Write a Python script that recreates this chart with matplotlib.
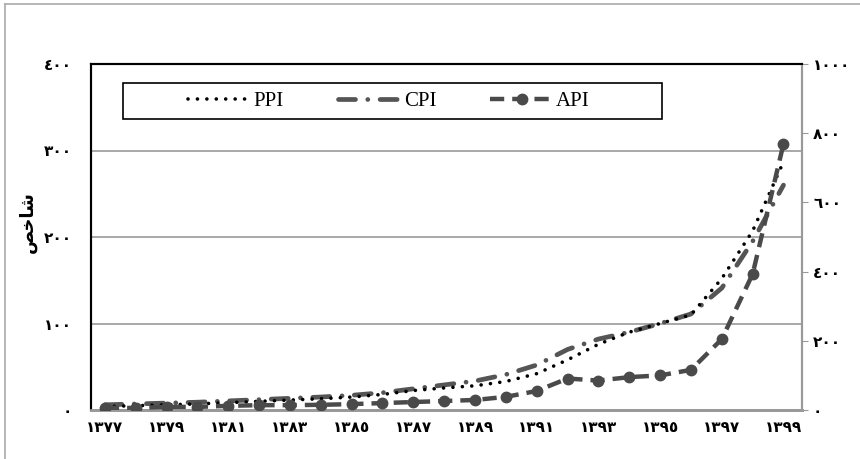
import matplotlib
matplotlib.use('Agg')
import matplotlib.pyplot as plt
from matplotlib.lines import Line2D
from matplotlib.patches import Rectangle

# years 1377..1399 (solar hijri)
years = list(range(1377, 1400))

ppi = [4, 5, 6, 7, 8.5, 10, 11.5, 13, 15, 18, 22.5, 25.5, 28, 33, 42,
       58, 76, 90, 100, 110, 152, 207, 287]
cpi = [6, 7, 8, 9, 10.5, 12, 13.5, 15, 17, 20, 24.5, 29, 33.5, 41, 52,
       70, 82, 90, 100, 111, 141, 195, 260]
api = [6, 6, 9, 9, 12, 14, 14, 15, 17, 20, 23, 26, 29, 38, 55,
       91, 85, 95, 100, 116, 205, 393, 769]

left_ticks = [0, 100, 200, 300, 400]
right_ticks = [0, 200, 400, 600, 800, 1000]

FA = str.maketrans('0123456789', '٠١٢٣٤٥٦٧٨٩')


def to_fa(n):
    return str(n).translate(FA)


# "شاخص" written with presentation forms, visual (left-to-right) order
ylabel_text = '\uFEBA\uFEA7\uFE8E\uFEB7'

ppi_style = dict(color='black', lw=2.6, linestyle=(0, (0.01, 2.6)),
                 dash_capstyle='round')
cpi_style = dict(color='#555555', lw=3.4, linestyle=(0, (3.6, 2.6, 0.01, 2.6)),
                 dash_capstyle='round')
api_style = dict(color='#4a4a4a', lw=3.2, linestyle=(0, (3.2, 1.8)),
                 marker='o', ms=7.5)

fig = plt.figure(figsize=(8.6, 4.59), dpi=100)
ax = fig.add_axes([91 / 860, 49 / 459, 711 / 860, 346 / 459])
ax2 = ax.twinx()

x = list(range(len(years)))

ax.plot(x, ppi, zorder=3, **ppi_style)
ax.plot(x, cpi, zorder=2, **cpi_style)
ax2.plot(x, api, zorder=4, **api_style)

ax.set_xlim(-0.45, 22.6)
ax.set_ylim(0, 400)
ax2.set_ylim(0, 1000)

ax.set_yticks(left_ticks)
ax.set_yticklabels([to_fa(v) for v in left_ticks])
ax2.set_yticks(right_ticks)
ax2.set_yticklabels([to_fa(v) for v in right_ticks])
ax.set_xticks(x[::2])
ax.set_xticklabels([to_fa(y) for y in years[::2]])

for lbl in ax.get_xticklabels() + ax.get_yticklabels() + ax2.get_yticklabels():
    lbl.set_fontweight('bold')
    lbl.set_fontsize(11)
    lbl.set_family('DejaVu Sans')

ax.tick_params(axis='y', length=0, pad=14)
ax.tick_params(axis='x', length=0, pad=7)
ax2.tick_params(axis='y', length=4, color='#999999', pad=4)

ax.grid(axis='y', color='#999999', lw=1.2)
ax.set_axisbelow(True)

for a in (ax, ax2):
    a.spines['left'].set_color('black')
    a.spines['left'].set_linewidth(1.5)
    a.spines['top'].set_color('black')
    a.spines['top'].set_linewidth(1.5)
    a.spines['bottom'].set_color('#999999')
    a.spines['bottom'].set_linewidth(2)
    a.spines['right'].set_color('#999999')
    a.spines['right'].set_linewidth(1.5)

fig.text(28 / 860, 1 - 222 / 459, ylabel_text, rotation=90, ha='center',
         va='center', fontsize=13, fontweight='bold', family='DejaVu Sans')

# legend box drawn separately, entries centred inside it
box = Rectangle((123 / 860, 1 - 119 / 459), 539 / 860, 36 / 459,
                transform=fig.transFigure, facecolor='white',
                edgecolor='black', lw=1.2, zorder=5)
fig.add_artist(box)

handles = [Line2D([], [], **ppi_style),
           Line2D([], [], **cpi_style),
           Line2D([], [], **api_style)]
leg = fig.legend(handles, ['PPI', 'CPI', 'API'], ncol=3,
                 loc='center', bbox_to_anchor=(389 / 860, 1 - 101 / 459),
                 prop={'family': 'Liberation Serif', 'size': 15},
                 handlelength=3.0, handletextpad=0.15, columnspacing=2.6,
                 frameon=False)
leg.set_zorder(6)

# outer chart frame (left and top edges)
fig.add_artist(Line2D([5 / 860, 5 / 860], [0, 1 - 4 / 459],
                      transform=fig.transFigure, color='#aaaaaa', lw=1.2))
fig.add_artist(Line2D([5 / 860, 1], [1 - 4 / 459, 1 - 4 / 459],
                      transform=fig.transFigure, color='#aaaaaa', lw=1.2))

fig.savefig('out.png', dpi=100)
